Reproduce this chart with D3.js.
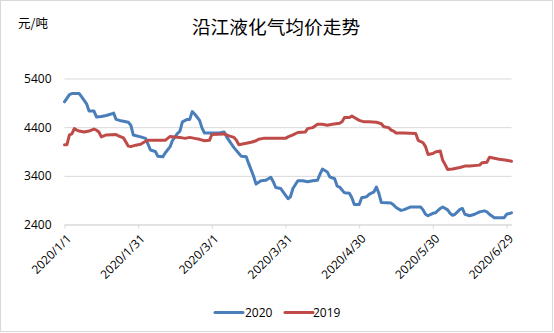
<!DOCTYPE html>
<html>
<head>
<meta charset="utf-8">
<script src="https://cdn.jsdelivr.net/npm/d3@7"></script>
<style>
  html, body { margin: 0; padding: 0; background: #fff; }
  svg { display: block; }
  text { font-family: "Open Sans", "Noto Sans CJK SC", sans-serif; fill: #000; }
</style>
</head>
<body>
<svg id="chart" width="554" height="333"></svg>
<script>
// Average LPG price along the Yangtze, 2020 vs 2019 (yuan/ton), daily change points
const dates2020 = [
  "2020-01-01","2020-01-03","2020-01-04","2020-01-07","2020-01-08","2020-01-10","2020-01-11","2020-01-13",
  "2020-01-14","2020-01-16","2020-01-18","2020-01-20","2020-01-21","2020-01-22","2020-01-24","2020-01-27",
  "2020-01-28","2020-01-29","2020-02-01","2020-02-03","2020-02-04","2020-02-05","2020-02-07","2020-02-08",
  "2020-02-10","2020-02-11","2020-02-13","2020-02-14","2020-02-16","2020-02-17","2020-02-18","2020-02-20",
  "2020-02-21","2020-02-22","2020-02-23","2020-02-25","2020-02-26","2020-02-27","2020-03-04","2020-03-06",
  "2020-03-07","2020-03-09","2020-03-10","2020-03-12","2020-03-13","2020-03-15","2020-03-16","2020-03-18",
  "2020-03-19","2020-03-21","2020-03-23","2020-03-25","2020-03-26","2020-03-27","2020-03-29","2020-03-30",
  "2020-04-01","2020-04-02","2020-04-03","2020-04-05","2020-04-07","2020-04-09","2020-04-11","2020-04-13",
  "2020-04-14","2020-04-15","2020-04-17","2020-04-18","2020-04-20","2020-04-21","2020-04-22","2020-04-24",
  "2020-04-26","2020-04-27","2020-04-28","2020-04-30","2020-05-01","2020-05-03","2020-05-04","2020-05-06",
  "2020-05-07","2020-05-08","2020-05-09","2020-05-13","2020-05-14","2020-05-15","2020-05-17","2020-05-18",
  "2020-05-21","2020-05-25","2020-05-26","2020-05-27","2020-05-28","2020-05-30","2020-05-31","2020-06-02",
  "2020-06-03","2020-06-05","2020-06-06","2020-06-07","2020-06-08","2020-06-10","2020-06-11","2020-06-12",
  "2020-06-14","2020-06-16","2020-06-18","2020-06-20","2020-06-21","2020-06-22","2020-06-24","2020-06-28",
  "2020-06-29","2020-07-01"
];
const values2020 = [
  4920,5070,5090,5090,5020,4880,4730,4730,
  4610,4620,4640,4670,4690,4560,4530,4500,
  4440,4240,4200,4170,4050,3930,3900,3800,
  3790,3870,4000,4130,4270,4320,4510,4560,
  4560,4720,4670,4540,4380,4280,4280,4300,
  4200,4050,3980,3860,3800,3790,3650,3390,
  3230,3300,3310,3370,3280,3160,3140,3070,
  2930,2970,3140,3300,3300,3280,3300,3310,
  3430,3540,3480,3380,3340,3190,3170,3050,
  3040,2950,2810,2810,2950,2970,3020,3070,
  3170,3040,2850,2840,2800,2750,2690,2700,
  2760,2760,2700,2610,2580,2630,2640,2730,
  2760,2700,2630,2590,2610,2710,2730,2610,
  2580,2610,2660,2680,2660,2610,2540,2540,
  2610,2640
];

const dates2019 = [
  "2020-01-01","2020-01-02","2020-01-03","2020-01-04","2020-01-05","2020-01-06","2020-01-07","2020-01-09",
  "2020-01-11","2020-01-13","2020-01-14","2020-01-15","2020-01-16","2020-01-18","2020-01-22","2020-01-23",
  "2020-01-25","2020-01-27","2020-01-28","2020-01-30","2020-02-01","2020-02-03","2020-02-04","2020-02-11",
  "2020-02-13","2020-02-15","2020-02-17","2020-02-19","2020-02-21","2020-02-23","2020-02-25","2020-02-27",
  "2020-02-29","2020-03-01","2020-03-06","2020-03-08","2020-03-10","2020-03-11","2020-03-12","2020-03-14",
  "2020-03-17","2020-03-19","2020-03-20","2020-03-22","2020-03-31","2020-04-01","2020-04-03","2020-04-05",
  "2020-04-08","2020-04-09","2020-04-11","2020-04-13","2020-04-15","2020-04-17","2020-04-19","2020-04-22",
  "2020-04-23","2020-04-24","2020-04-26","2020-04-27","2020-04-28","2020-04-30","2020-05-02","2020-05-04",
  "2020-05-07","2020-05-09","2020-05-10","2020-05-12","2020-05-13","2020-05-14","2020-05-15","2020-05-18",
  "2020-05-23","2020-05-24","2020-05-26","2020-05-27","2020-05-28","2020-05-30","2020-05-31","2020-06-02",
  "2020-06-03","2020-06-04","2020-06-05","2020-06-07","2020-06-08","2020-06-10","2020-06-12","2020-06-14",
  "2020-06-18","2020-06-19","2020-06-21","2020-06-22","2020-06-24","2020-06-26","2020-06-29","2020-07-01"
];
const values2019 = [
  4040,4040,4240,4260,4370,4340,4320,4300,
  4320,4360,4340,4300,4200,4240,4250,4220,
  4180,4010,4000,4030,4050,4110,4130,4130,
  4210,4200,4190,4170,4190,4170,4150,4120,
  4130,4250,4260,4220,4190,4130,4040,4060,
  4090,4120,4150,4170,4170,4200,4240,4290,
  4300,4370,4390,4460,4460,4440,4460,4480,
  4510,4600,4600,4630,4600,4540,4510,4510,
  4500,4470,4410,4390,4340,4320,4280,4280,
  4270,4130,4080,4000,3840,3860,3890,3910,
  3720,3630,3530,3540,3550,3570,3600,3600,
  3620,3670,3680,3780,3760,3740,3720,3700
];

const seriesNames = ["2020", "2019"];
const seriesColors = ["#4A7EBB", "#BE4B48"];
const yTicks = [2400, 3400, 4400, 5400];
const xTickDates = ["2020-01-01","2020-01-31","2020-03-01","2020-03-31","2020-04-30","2020-05-30","2020-06-29"];

const parse = d3.timeParse("%Y-%m-%d");
const fmt = d3.timeFormat("%Y/%-m/%-d");

const svg = d3.select("#chart");

// chart frame
svg.append("rect")
  .attr("x", 0.5).attr("y", 0.5)
  .attr("width", 552).attr("height", 331)
  .attr("fill", "#fff").attr("stroke", "#d9d9d9");

const x = d3.scaleTime()
  .domain([parse("2020-01-01"), parse("2020-07-01")])
  .range([64.5, 511.5]);
const y = d3.scaleLinear()
  .domain([2400, 5400])
  .range([224.5, 78.5]);

// title and unit
svg.append("text")
  .attr("x", 276).attr("y", 34)
  .attr("text-anchor", "middle")
  .style("font-family", "'Noto Sans CJK SC', sans-serif")
  .style("font-size", "18.7px")
  .text("沿江液化气均价走势");
svg.append("text")
  .attr("x", 18).attr("y", 28)
  .style("font-family", "'Noto Sans CJK SC', sans-serif")
  .style("font-size", "12.5px")
  .text("元/吨");

// horizontal gridlines
svg.append("g")
  .attr("transform", "translate(64.5,0)")
  .call(d3.axisLeft(y).tickValues(yTicks).tickSize(-(511.5 - 64.5)).tickFormat(d3.format("d")).tickPadding(13))
  .call(g => g.select(".domain").remove())
  .call(g => g.selectAll(".tick line").attr("stroke", "#d9d9d9"))
  .call(g => g.selectAll(".tick text").style("font-size", "12px").attr("fill", "#000"));

// date axis
const xAxis = svg.append("g")
  .attr("transform", "translate(0,224.5)")
  .call(d3.axisBottom(x).tickValues(xTickDates.map(parse)).tickSize(4).tickSizeOuter(0).tickFormat(fmt));
xAxis.select(".domain").attr("stroke", "#d9d9d9");
xAxis.selectAll(".tick line").attr("stroke", "#d9d9d9");
xAxis.selectAll(".tick text")
  .style("font-size", "12px")
  .attr("fill", "#000")
  .attr("text-anchor", "end")
  .attr("y", 0).attr("dy", 0)
  .attr("transform", "translate(7,15) rotate(-45)");

// series lines
const line = d3.line()
  .x(d => x(d[0]))
  .y(d => y(d[1]));

const seriesData = [
  dates2020.map((d, i) => [parse(d), values2020[i]]),
  dates2019.map((d, i) => [parse(d), values2019[i]])
];

seriesData.forEach((data, i) => {
  svg.append("path")
    .datum(data)
    .attr("fill", "none")
    .attr("stroke", seriesColors[i])
    .attr("stroke-width", 3)
    .attr("stroke-linejoin", "round")
    .attr("stroke-linecap", "round")
    .attr("d", line);
});

// legend
const legendPos = [[215, 245], [285, 313]];
seriesNames.forEach((name, i) => {
  const [lx, tx] = legendPos[i];
  svg.append("line")
    .attr("x1", lx).attr("x2", lx + 28)
    .attr("y1", 312.5).attr("y2", 312.5)
    .attr("stroke", seriesColors[i])
    .attr("stroke-width", 3)
    .attr("stroke-linecap", "round");
  svg.append("text")
    .attr("x", tx).attr("y", 316.5)
    .style("font-size", "12px")
    .text(name);
});
</script>
</body>
</html>
